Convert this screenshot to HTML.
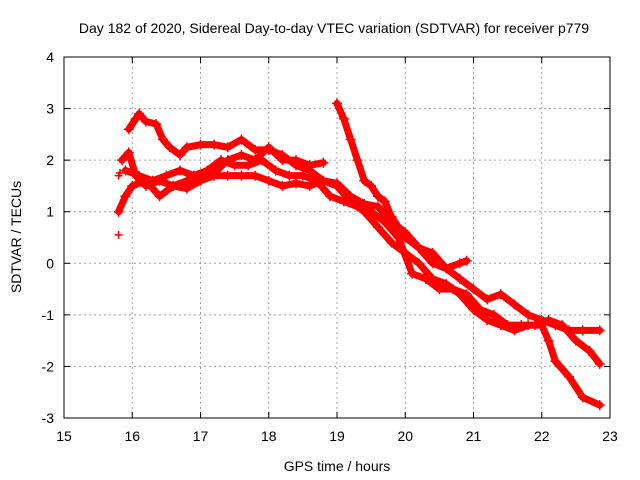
<!DOCTYPE html>
<html><head><meta charset="utf-8"><style>
body{margin:0;background:#fff}
svg{display:block;font-family:"Liberation Sans",sans-serif}
</style></head><body>
<svg id="c" width="640" height="480">
<text x="334" y="33" font-size="14" text-anchor="middle">Day 182 of 2020, Sidereal Day-to-day VTEC variation (SDTVAR) for receiver p779</text>
<text x="337" y="471" font-size="14" text-anchor="middle">GPS time / hours</text>
<text transform="translate(21,237) rotate(-90)" font-size="14" text-anchor="middle">SDTVAR / TECUs</text>
<g id="grid"></g><g id="ticks"></g><g id="marks"></g>
<rect x="64" y="57" width="546" height="361" fill="none" stroke="#000" stroke-width="1"/>
</svg>
<script>
const xTicks=[15,16,17,18,19,20,21,22,23];
const yTicks=[-3,-2,-1,0,1,2,3,4];
const s1t=[15.95,16.05,16.1,16.2,16.35,16.45,16.55,16.7,16.8,17.0,17.2,17.4,17.6,17.8,18.0,18.2,18.4,18.6,18.8,19.0,19.2,19.4,19.6,19.8,20.0,20.2,20.4,20.6,20.8,21.0,21.2,21.4,21.6,21.8,22.0,22.2,22.4,22.6,22.85];
const s1v=[2.6,2.8,2.9,2.75,2.7,2.4,2.25,2.1,2.25,2.3,2.3,2.25,2.4,2.2,2.2,2.1,1.9,1.8,1.6,1.55,1.3,1.15,1.1,0.8,0.5,0.3,0.2,-0.1,-0.3,-0.5,-0.7,-0.6,-0.8,-1.0,-1.1,-1.2,-1.3,-1.3,-1.3];
const s2t=[15.85,15.95,16.05,16.2,16.4,16.6,16.8,17.0,17.2,17.4,17.6,17.8,18.0,18.2,18.4,18.6,18.8];
const s2v=[2.0,2.15,1.7,1.5,1.6,1.5,1.6,1.7,1.75,2.0,2.1,2.0,2.25,2.0,2.0,1.9,1.95];
const s3t=[19.0,19.1,19.2,19.3,19.4,19.5,19.6,19.7,19.8,19.9,20.0,20.2,20.4,20.6,20.8,20.9];
const s3v=[3.1,2.8,2.4,2.0,1.6,1.5,1.3,1.2,0.9,0.7,0.6,0.3,0.0,-0.1,0.0,0.05];
const s4t=[15.8,15.9,16.0,16.2,16.4,16.6,16.8,17.0,17.2,17.4,17.6,17.8,18.0,18.2,18.4,18.6,18.8,19.0,19.2,19.4,19.6,19.8,20.0,20.2,20.4,20.6,20.8,21.0,21.2,21.4,21.6,21.8,22.0,22.1,22.2,22.4,22.6,22.85];
const s4v=[1.0,1.3,1.5,1.6,1.3,1.5,1.45,1.6,1.7,1.7,1.7,1.7,1.6,1.5,1.55,1.5,1.6,1.5,1.2,1.0,0.7,0.4,0.2,0.0,-0.3,-0.4,-0.6,-0.9,-1.1,-1.2,-1.3,-1.2,-1.2,-1.5,-1.9,-2.2,-2.6,-2.75];
const s5t=[15.9,16.1,16.3,16.5,16.7,16.9,17.1,17.3,17.5,17.7,17.9,18.1,18.3,18.5,18.7,18.9,19.1,19.3,19.5,19.7,19.9,20.1,20.3,20.5,20.7,20.9,21.1,21.3,21.5,21.7,21.9,22.1,22.3,22.5,22.7,22.85];
const s5v=[1.8,1.7,1.6,1.7,1.8,1.7,1.8,2.0,1.9,1.9,2.0,1.8,1.7,1.7,1.6,1.3,1.2,1.1,1.0,0.8,0.5,-0.2,-0.3,-0.5,-0.5,-0.6,-0.9,-1.0,-1.2,-1.2,-1.2,-1.1,-1.2,-1.5,-1.7,-1.95];
const outT=[15.8,15.8,15.82];
const outV=[0.55,1.7,1.75];
const NS="http://www.w3.org/2000/svg";
const X=t=>64+(t-15)*546/8, Y=v=>57+(4-v)*361/7;
function mk(tag,attrs,parent){const e=document.createElementNS(NS,tag);for(const k in attrs)e.setAttribute(k,attrs[k]);parent.appendChild(e);return e;}
const grid=document.getElementById('grid'),ticks=document.getElementById('ticks'),marks=document.getElementById('marks');
xTicks.forEach(t=>{
 if(t>15&&t<23){const g=mk('line',{x1:X(t),x2:X(t),y1:57,y2:418,stroke:'#a0a0a0','stroke-dasharray':'2,3'},grid);
 
 }
 mk('line',{x1:X(t),x2:X(t),y1:418,y2:412,stroke:'#000'},ticks);
 mk('line',{x1:X(t),x2:X(t),y1:57,y2:63,stroke:'#000'},ticks);
 const l=mk('text',{x:X(t),y:441,'font-size':14,'text-anchor':'middle'},ticks);l.textContent=t;
 
 
});
yTicks.forEach(v=>{
 if(v>-3&&v<4){const g=mk('line',{x1:64,x2:610,y1:Y(v),y2:Y(v),stroke:'#a0a0a0','stroke-dasharray':'2,3'},grid);
 
 }
 mk('line',{x1:64,x2:70,y1:Y(v),y2:Y(v),stroke:'#000'},ticks);
 mk('line',{x1:610,x2:604,y1:Y(v),y2:Y(v),stroke:'#000'},ticks);
 const l=mk('text',{x:54,y:Y(v)+5,'font-size':14,'text-anchor':'end'},ticks);l.textContent=v;
 
 
});
const series=[[s1t,s1v],[s2t,s2v],[s3t,s3v],[s4t,s4v],[s5t,s5v]];
series.forEach((s,i)=>{
 const pts=s[0].map((t,j)=>X(t)+','+Y(s[1][j])).join(' ');
 const p=mk('polyline',{points:pts,fill:'none',stroke:'#ff0000','stroke-width':7,'stroke-linejoin':'round','stroke-linecap':'round'},marks);
 
 
 s[0].forEach((t,j)=>{
  const x=X(t),y=Y(s[1][j]);
  const m=mk('path',{d:`M${x-5},${y}H${x+5}M${x},${y-5}V${y+5}`,stroke:'#ff0000','stroke-width':1.5},marks);
  
  
 });
});
outT.forEach((t,j)=>{
 const x=X(t),y=Y(outV[j]);
 const m=mk('path',{d:`M${x-4},${y}H${x+4}M${x},${y-4}V${y+4}`,stroke:'#ff0000','stroke-width':1.5},marks);
 
 
});
</script>
</body></html>
